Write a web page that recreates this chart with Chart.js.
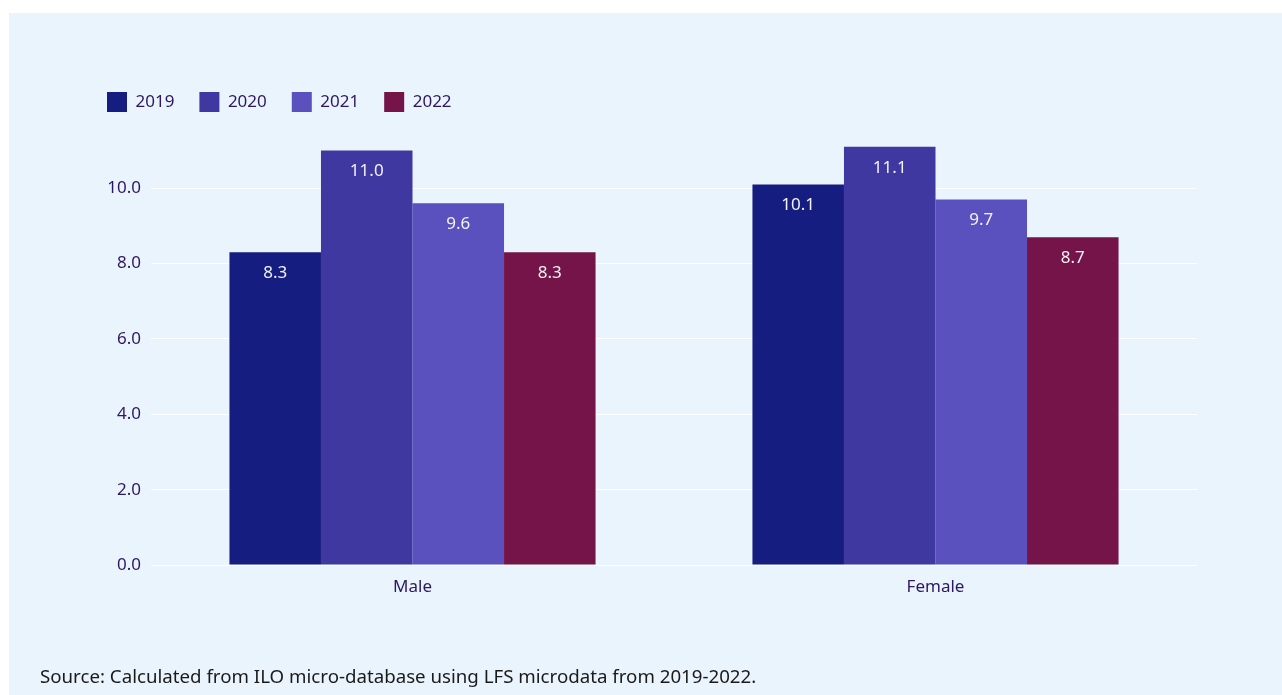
<!DOCTYPE html>
<html>
<head>
<meta charset="utf-8">
<script src="https://cdn.jsdelivr.net/npm/chart.js@4"></script>
<style>
  body { margin: 0; background: #fff; font-family: 'Noto Sans', sans-serif; }
  #panel { position: absolute; left: 9px; top: 13px; width: 1273px; height: 682px; background: #eaf4fd; }
  #source { position: absolute; left: 31px; top: 650px; font-size: 18.7px; color: #1a1a1a; }
</style>
</head>
<body>
<div id="panel">
  <canvas id="grafico" width="1273" height="682"></canvas>
  <div id="source">Source: Calculated from ILO micro-database using LFS microdata from 2019-2022.</div>
</div>
<script>
const categorias = ['Male', 'Female'];
const anios = ['2019', '2020', '2021', '2022'];
const valores2019 = [8.3, 10.1];
const valores2020 = [11.0, 11.1];
const valores2021 = [9.6, 9.7];
const valores2022 = [8.3, 8.7];
const colores = ['#161d80', '#3f38a0', '#5a50be', '#751448'];
const ticksY = [0, 2, 4, 6, 8, 10];

const texto = '#2e1760';

// etiquetas de valor dentro de las barras
const etiquetas = {
  id: 'etiquetas',
  afterDatasetsDraw(chart) {
    const c = chart.ctx;
    c.save();
    c.font = '17px "Noto Sans"';
    c.fillStyle = '#f2f2f2';
    c.textAlign = 'center';
    c.textBaseline = 'middle';
    chart.data.datasets.forEach((ds, i) => {
      chart.getDatasetMeta(i).data.forEach((bar, j) => {
        c.fillText(ds.data[j].toFixed(1), bar.x, bar.y + 21);
      });
    });
    c.restore();
  }
};

// altura fija de la leyenda
const leyendaFija = {
  id: 'leyendaFija',
  afterInit(chart) {
    const lg = chart.legend;
    const fitOrig = lg.fit.bind(lg);
    lg.fit = function () { fitOrig(); this.height = 58; };
  }
};

const ctx = document.getElementById('grafico');
new Chart(ctx, {
  type: 'bar',
  data: {
    labels: categorias,
    datasets: [valores2019, valores2020, valores2021, valores2022].map((d, i) => ({
      label: anios[i],
      data: d,
      backgroundColor: colores[i],
      borderWidth: 0,
      categoryPercentage: 0.7,
      barPercentage: 1.0
    }))
  },
  options: {
    responsive: false,
    animation: false,
    layout: { padding: { left: 73, right: 85, top: 54, bottom: 90 } },
    plugins: {
      tooltip: { enabled: false },
      legend: {
        position: 'top',
        align: 'start',
        labels: {
          color: texto,
          font: { family: 'Noto Sans', size: 17 },
          boxWidth: 20,
          boxHeight: 20,
          padding: 25
        }
      }
    },
    scales: {
      x: {
        grid: { display: false },
        border: { display: false },
        ticks: { color: texto, font: { family: 'Noto Sans', size: 17 }, padding: 4 },
        afterFit(s) { s.height = 40; }
      },
      y: {
        min: 0,
        max: 11.68,
        afterBuildTicks(s) { s.ticks = ticksY.map(v => ({ value: v })); },
        grid: { color: '#ffffff', lineWidth: 1, drawTicks: false },
        border: { display: false },
        ticks: {
          color: texto,
          font: { family: 'Noto Sans', size: 17 },
          padding: 10,
          callback: v => v.toFixed(1)
        },
        afterFit(s) { s.width = 69; }
      }
    }
  },
  plugins: [etiquetas, leyendaFija]
});
</script>
</body>
</html>
